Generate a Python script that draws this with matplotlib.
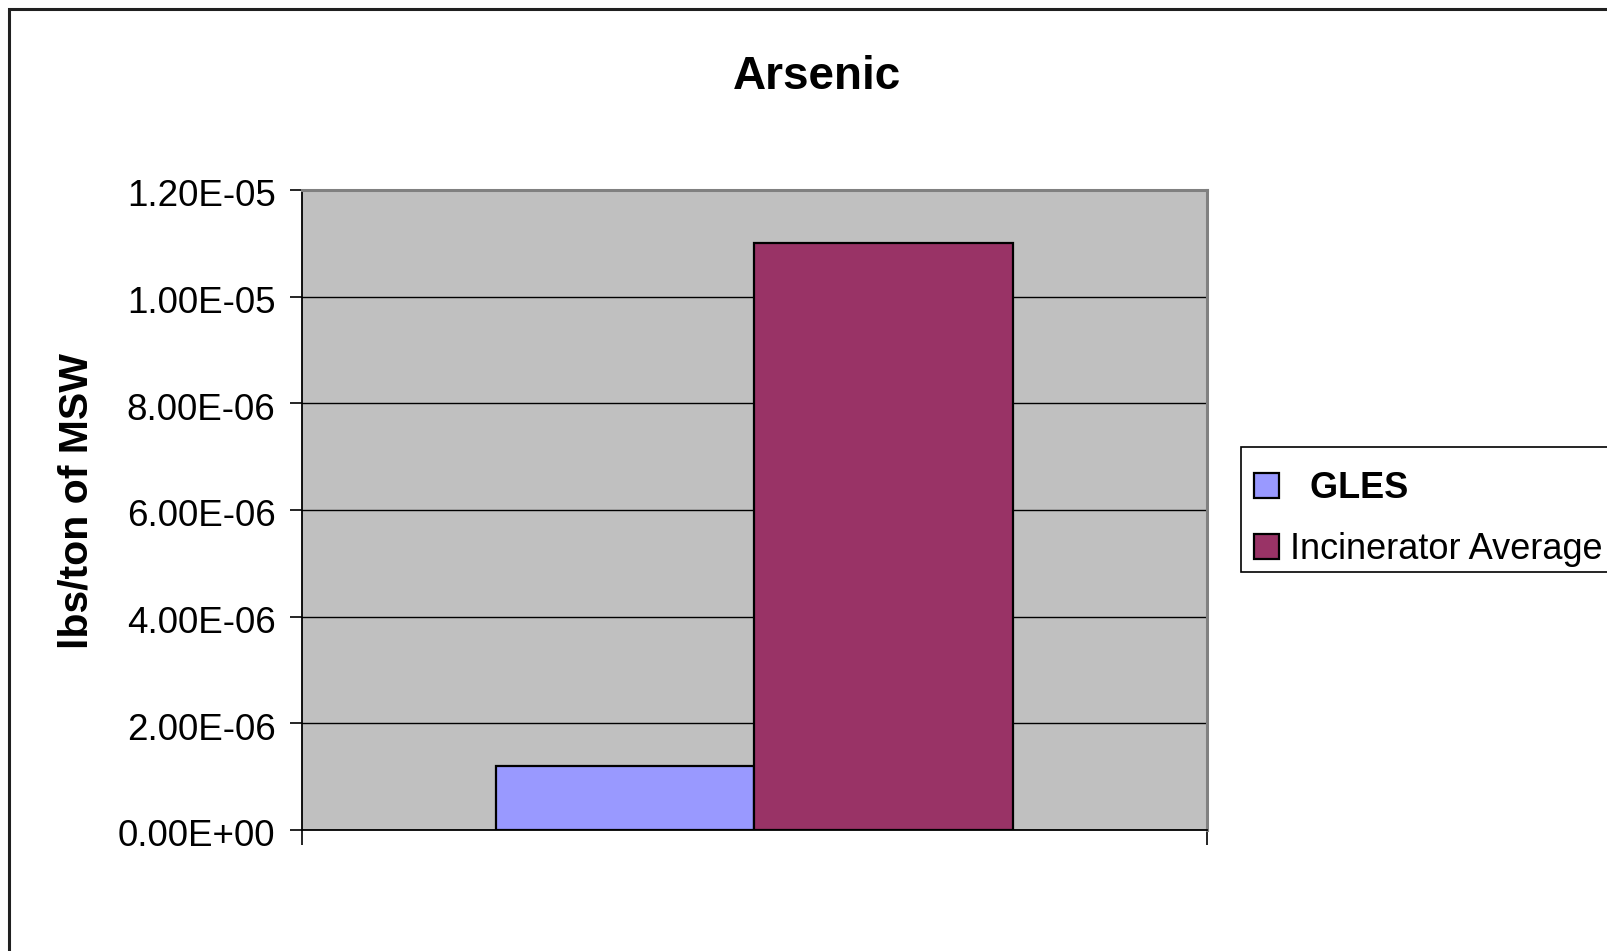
import matplotlib
matplotlib.use("Agg")
import matplotlib.pyplot as plt
from matplotlib.patches import Rectangle, Patch
from matplotlib.ticker import FuncFormatter, FixedLocator
from matplotlib.transforms import ScaledTranslation

plt.rcParams["font.family"] = ["Liberation Sans", "DejaVu Sans"]

# Data
title = "Arsenic"
ylabel = "lbs/ton of MSW"
series = ["GLES", "Incinerator Average"]
values = [1.2e-6, 1.1e-5]
colors = ["#9999FF", "#993366"]
yticks = [0.0, 2e-6, 4e-6, 6e-6, 8e-6, 1e-5, 1.2e-5]

W, H = 1608, 951
fig = plt.figure(figsize=(W / 100, H / 100), dpi=100)

# Outer chart frame (its right and bottom edges lie past the canvas)
fig.patches.append(Rectangle((9 / W, -0.1), 1.2, 1 - 9 / H + 0.1,
                             transform=fig.transFigure, fill=False,
                             edgecolor="#202020", linewidth=2.2, zorder=0))

left, right, top, bottom = 302, 1207, 190, 830
ax = fig.add_axes([left / W, 1 - bottom / H, (right - left) / W, (bottom - top) / H])
ax.set_facecolor("#C0C0C0")

# Clustered bars for a single category, Excel-style gap width of 150%
bar_w = 1 / 3.5
n = len(values)
for i, (name, v, c) in enumerate(zip(series, values, colors)):
    x = 0.5 + (i - (n - 1) / 2) * bar_w
    ax.bar(x, v, width=bar_w, color=c, edgecolor="black", linewidth=1.6,
           label=name, zorder=3)

ax.set_xlim(0, 1)
ax.set_ylim(0, 1.2e-5)
ax.yaxis.set_major_locator(FixedLocator(yticks))
ax.yaxis.set_major_formatter(FuncFormatter(lambda v, p: "%.2E" % v))
ax.grid(axis="y", color="black", linewidth=1.0, zorder=1)
ax.set_axisbelow(True)

ax.xaxis.set_major_locator(FixedLocator([0, 1]))
ax.set_xticklabels([])
ax.tick_params(axis="x", direction="out", length=11, width=1.2, color="black")
ax.tick_params(axis="y", direction="out", length=9, width=1.2, color="black",
               labelsize=26.5, pad=10)
# tick labels sit a touch below their tick marks
shift = ScaledTranslation(0, -3 / 100, fig.dpi_scale_trans)
for lbl in ax.get_yticklabels():
    lbl.set_transform(lbl.get_transform() + shift)

for s in ("top", "right"):
    ax.spines[s].set_color("#808080")
    ax.spines[s].set_linewidth(2.2)
for s in ("left", "bottom"):
    ax.spines[s].set_color("black")
    ax.spines[s].set_linewidth(1.3)

fig.text(817 / W, 1 - 77 / H, title, ha="center", va="center",
         fontsize=33, fontweight="bold")
fig.text(77 / W, 1 - 501 / H, ylabel, ha="center", va="center",
         rotation=90, fontsize=29.5, fontweight="bold")

# Legend box (extends past the right edge of the canvas)
fig.patches.append(Rectangle((1241 / W, 1 - 572 / H), 0.3, (572 - 447) / H,
                             transform=fig.transFigure, facecolor="white",
                             edgecolor="black", linewidth=1.2, zorder=4))
handles = [Patch(facecolor=c, edgecolor="black", linewidth=1.6) for c in colors]
labels = ["  " + series[0], series[1]]
leg = fig.legend(handles, labels, loc="upper left",
                 bbox_to_anchor=(1239 / W, 1 - 456 / H),
                 bbox_transform=fig.transFigure, fontsize=26,
                 frameon=False, borderpad=0.42, labelspacing=0.72,
                 handlelength=0.7, handleheight=0.7, handletextpad=0.3,
                 borderaxespad=0)
leg.set_zorder(5)
leg.get_texts()[0].set_fontweight("bold")

fig.savefig("out.png", dpi=100)
